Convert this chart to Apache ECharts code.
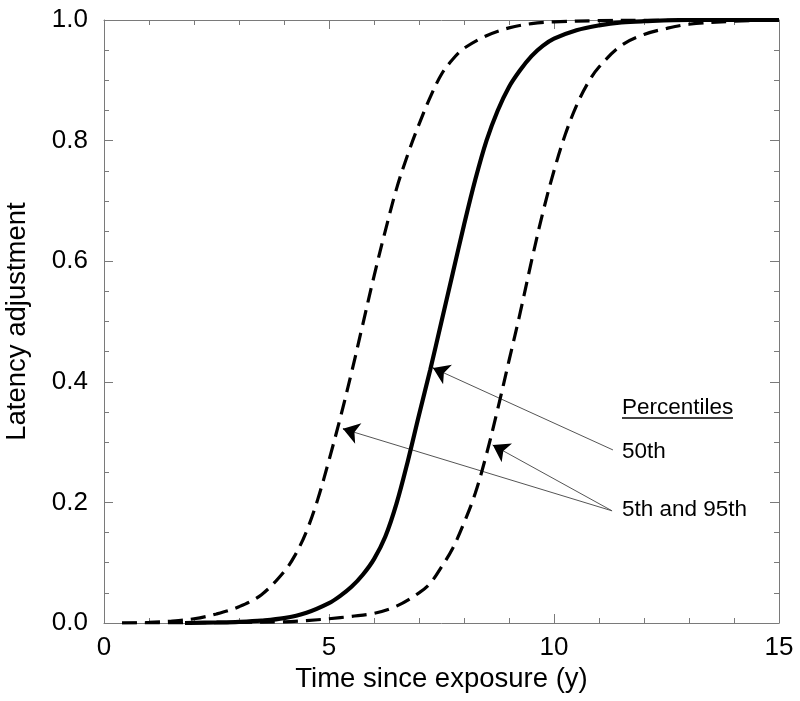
<!DOCTYPE html>
<html>
<head>
<meta charset="utf-8">
<script src="https://cdn.jsdelivr.net/npm/echarts@6/dist/echarts.min.js"></script>
<style>
  html, body { margin: 0; padding: 0; background: #fff; }
  #chart { width: 800px; height: 701px; }
</style>
</head>
<body>
<div id="chart"></div>
<script>
// 50th percentile (solid)
var x50 = [1.8, 2.5, 3, 3.5, 4, 4.5, 5, 5.25, 5.5, 5.75, 6, 6.25, 6.5, 6.75, 7, 7.25, 7.5, 7.75, 8, 8.25, 8.5, 8.75, 9, 9.25, 9.5, 9.75, 10, 10.5, 11, 11.5, 12, 13, 14, 15];
var y50 = [0, 0.001, 0.002, 0.004, 0.008, 0.017, 0.033, 0.045, 0.06, 0.08, 0.106, 0.143, 0.198, 0.268, 0.345, 0.42, 0.5, 0.58, 0.66, 0.735, 0.8, 0.85, 0.889, 0.917, 0.94, 0.957, 0.969, 0.983, 0.991, 0.996, 0.998, 1, 1, 1];
// 5th percentile (left dashed)
var x5 = [0.4, 1, 1.5, 2, 2.5, 3, 3.5, 4, 4.25, 4.5, 4.75, 5, 5.25, 5.5, 5.75, 6, 6.25, 6.5, 6.75, 7, 7.25, 7.5, 7.75, 8, 8.5, 9, 9.5, 10, 11, 12, 13, 14, 15];
var y5 = [0, 0.001, 0.003, 0.007, 0.015, 0.027, 0.047, 0.085, 0.113, 0.152, 0.205, 0.27, 0.34, 0.415, 0.495, 0.575, 0.65, 0.72, 0.777, 0.827, 0.872, 0.91, 0.935, 0.953, 0.974, 0.987, 0.994, 0.997, 0.999, 1, 1, 1, 1];
// 95th percentile (right dashed)
var x95 = [0.4, 2, 3, 4, 4.5, 5, 5.5, 6, 6.5, 7, 7.25, 7.5, 7.75, 8, 8.25, 8.5, 8.75, 9, 9.25, 9.5, 9.75, 10, 10.25, 10.5, 10.75, 11, 11.5, 12, 12.5, 13, 14, 15];
var y95 = [0, 0, 0.001, 0.002, 0.004, 0.007, 0.011, 0.016, 0.028, 0.05, 0.066, 0.093, 0.124, 0.166, 0.215, 0.28, 0.355, 0.435, 0.515, 0.6, 0.68, 0.75, 0.81, 0.858, 0.895, 0.922, 0.958, 0.976, 0.986, 0.993, 0.998, 1];

// annotation arrows: start (label side) -> tip (curve)
var arrowFrom = [[11.31, 0.287], [11.29, 0.186], [11.29, 0.186]];
var arrowTo = [[7.31, 0.423], [5.31, 0.322], [8.64, 0.295]];

var xTitle = 'Time since exposure (y)';
var yTitle = 'Latency adjustment';
var legendTitle = 'Percentiles';
var legendLabels = ['50th', '5th and 95th'];

function pairs(xs, ys) {
  var out = [];
  for (var i = 0; i < xs.length; i++) out.push([xs[i], ys[i]]);
  return out;
}

var font = 'Liberation Sans, Arial, sans-serif';
var axisGray = '#7a7a7a';

function axisBase(pos, showLabel) {
  return {
    type: 'value',
    position: pos,
    axisLine: { show: true, onZero: false, lineStyle: { color: axisGray, width: 1 } },
    axisTick: { show: true, inside: true, length: 9, lineStyle: { color: axisGray, width: 1 } },
    minorTick: { show: true, length: 5, lineStyle: { color: axisGray, width: 1 } },
    splitLine: { show: false },
    minorSplitLine: { show: false },
    axisLabel: { show: showLabel, color: '#000', fontSize: 26, fontFamily: font }
  };
}

var xb = axisBase('bottom', true);
xb.min = 0; xb.max = 15; xb.interval = 5;
xb.minorTick.splitNumber = 5;
xb.axisLabel.margin = 12;
xb.name = xTitle; xb.nameLocation = 'middle'; xb.nameGap = 42;
xb.nameTextStyle = { color: '#000', fontSize: 27.5, fontFamily: font };

var xt = axisBase('top', false);
xt.min = 0; xt.max = 15; xt.interval = 5;
xt.minorTick.splitNumber = 5;

var yl = axisBase('left', true);
yl.min = 0; yl.max = 1; yl.interval = 0.2;
yl.minorTick.splitNumber = 4;
yl.axisLabel.margin = 16;
yl.axisLabel.formatter = function (v) { return v.toFixed(1); };
yl.name = yTitle; yl.nameLocation = 'middle'; yl.nameGap = 73;
yl.nameTextStyle = { color: '#000', fontSize: 27.5, fontFamily: font };

var yr = axisBase('right', false);
yr.min = 0; yr.max = 1; yr.interval = 0.2;
yr.minorTick.splitNumber = 4;

// thin grey shafts, and black heads on a short piece at the tip
var shafts = [], heads = [];
for (var i = 0; i < arrowFrom.length; i++) {
  var a = arrowFrom[i], b = arrowTo[i];
  shafts.push({ coords: [a, b] });
  var t = 0.96;
  heads.push({ coords: [[a[0] + (b[0] - a[0]) * t, a[1] + (b[1] - a[1]) * t], b] });
}

var chart = echarts.init(document.getElementById('chart'), null, { renderer: 'canvas' });
chart.setOption({
  animation: false,
  backgroundColor: '#fff',
  grid: { left: 104, right: 21, top: 20, bottom: 78, containLabel: false, outerBoundsMode: 'none' },
  xAxis: [xb, xt],
  yAxis: [yl, yr],
  series: [
    {
      type: 'line', name: '5th', data: pairs(x5, y5), showSymbol: false,
      smooth: 0.35,
      lineStyle: { color: '#000', width: 3.2, type: [15, 8] }
    },
    {
      type: 'line', name: '95th', data: pairs(x95, y95), showSymbol: false,
      smooth: 0.35,
      lineStyle: { color: '#000', width: 3.2, type: [15, 8] }
    },
    {
      type: 'line', name: '50th', data: pairs(x50, y50), showSymbol: false,
      smooth: 0.35,
      lineStyle: { color: '#000', width: 4.2 }
    },
    {
      type: 'lines', coordinateSystem: 'cartesian2d', silent: true,
      symbol: 'none',
      lineStyle: { color: '#555', width: 1, opacity: 1, curveness: 0 },
      data: shafts
    },
    {
      type: 'lines', coordinateSystem: 'cartesian2d', silent: true,
      symbol: ['none', 'arrow'], symbolSize: [11, 16],
      lineStyle: { color: '#000', width: 1, opacity: 1, curveness: 0 },
      data: heads
    }
  ],
  graphic: [
    { type: 'text', left: 622, top: 396, style: { text: legendTitle, fontSize: 22.5, fontFamily: font, fill: '#000' } },
    { type: 'line', shape: { x1: 622, y1: 418, x2: 733, y2: 418 }, style: { stroke: '#000', lineWidth: 1.5 } },
    { type: 'text', left: 622, top: 440, style: { text: legendLabels[0], fontSize: 22.5, fontFamily: font, fill: '#000' } },
    { type: 'text', left: 622, top: 498, style: { text: legendLabels[1], fontSize: 22.5, fontFamily: font, fill: '#000' } }
  ]
});
</script>
</body>
</html>
